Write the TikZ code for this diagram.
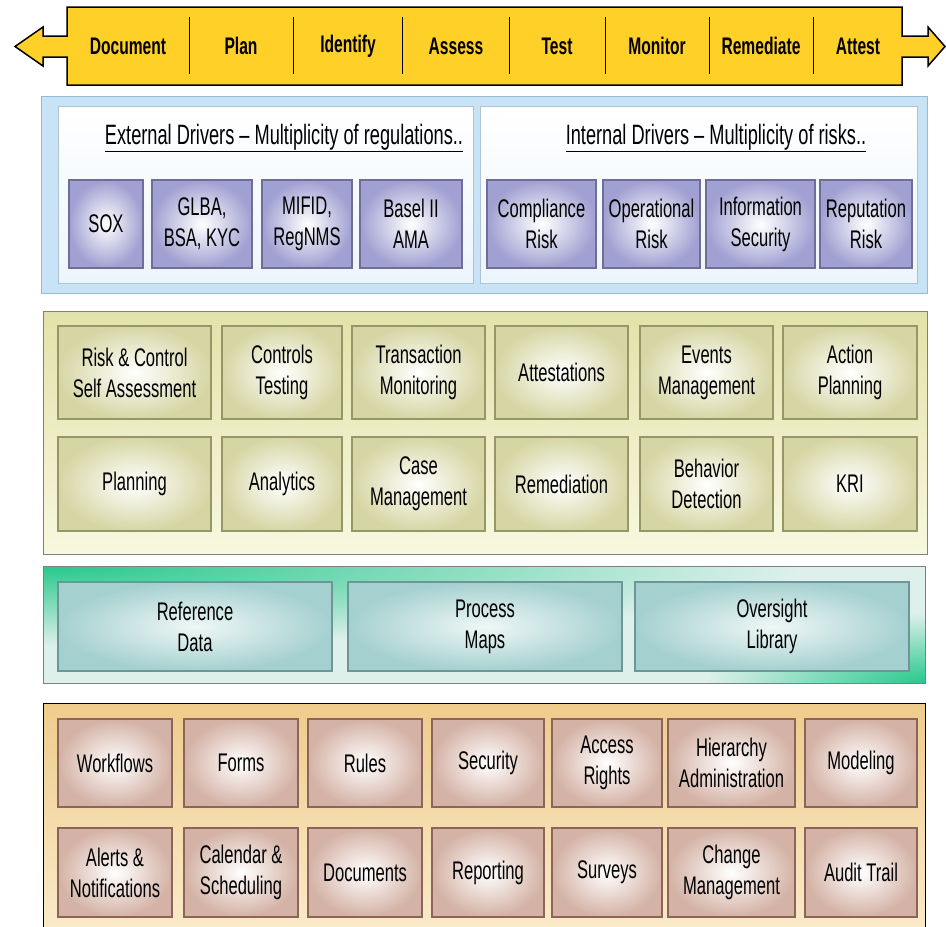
\documentclass[tikz,border=0pt]{standalone}
\usepackage{fontspec}
\setmainfont{Liberation Sans}[FakeStretch=0.65]
\usepackage{xcolor}
\usepackage{tikz}
\usetikzlibrary{positioning}

\definecolor{bannergold}{RGB}{255,208,40}
\definecolor{blueback}{RGB}{200,226,246}
\definecolor{blueedge}{RGB}{150,185,215}
\definecolor{panelfill}{RGB}{236,245,252}
\definecolor{paneledge}{RGB}{175,195,210}
\definecolor{lavtile}{RGB}{160,160,210}
\definecolor{lavedge}{RGB}{110,110,150}
\definecolor{olivetop}{RGB}{226,226,170}
\definecolor{olivelow}{RGB}{248,248,224}
\definecolor{olivetile}{RGB}{214,214,165}
\definecolor{oliveedge}{RGB}{150,150,105}
\definecolor{tealpale}{RGB}{222,240,236}
\definecolor{tealgreen}{RGB}{40,200,140}
\definecolor{tealtile}{RGB}{165,208,208}
\definecolor{tealedge}{RGB}{110,150,150}
\definecolor{tantop}{RGB}{238,204,140}
\definecolor{tanlow}{RGB}{250,234,200}
\definecolor{rosetile}{RGB}{212,178,165}
\definecolor{roseedge}{RGB}{140,100,90}

\newcommand{\tilefont}{\fontsize{25.5}{31}\selectfont}

\begin{document}
\begin{tikzpicture}[
  x=1pt, y=-1pt,
  tile/.style 2 args={rectangle, minimum width=#1pt, minimum height=#2pt,
              inner sep=1pt, align=center, font=\tilefont},
  lav/.style={inner color=white, outer color=lavtile, draw=lavedge, line width=1.2pt},
  olive/.style={inner color=white, outer color=olivetile, draw=oliveedge, line width=1.2pt},
  teal/.style={inner color=tealpale!50, outer color=tealtile, draw=tealedge, line width=1.2pt},
  rose/.style={inner color=white, outer color=rosetile, draw=roseedge, line width=1.2pt},
  stage/.style={font=\fontsize{24}{28}\selectfont\bfseries},
  heading/.style={font=\fontsize{28}{32}\selectfont}
]
\useasboundingbox (0,0) rectangle (946,927);

% Lifecycle banner
\draw[fill=bannergold, line width=1.5pt, line join=miter]
  (67,7) -- (902,7) -- (902,36) -- (928,36) -- (928,27) -- (945,46.5) -- (928,66)
  -- (928,57) -- (902,57) -- (902,85) -- (67,85) -- (67,57) -- (43,57) -- (43,66)
  -- (15,46.5) -- (43,27) -- (43,36) -- (67,36) -- cycle;
\foreach \xd in {189,293,402,509,605,709,813}
  \draw[line width=1pt] (\xd,17) -- (\xd,74);
\node[stage] (document) at (128,46) {Document};
\node[stage] (plan) at (241,46) {Plan};
\node[stage] (identify) at (348,46) {Identify};
\node[stage] (assess) at (456,46) {Assess};
\node[stage] (test) at (557,46) {Test};
\node[stage] (monitor) at (657,46) {Monitor};
\node[stage] (remediate) at (761,46) {Remediate};
\node[stage] (attest) at (858,46) {Attest};

% Drivers layer
\draw[fill=blueback, draw=blueedge, line width=1pt] (41,96) rectangle (927,293);
\draw[top color=white, bottom color=panelfill, draw=paneledge, line width=1pt] (58,106) rectangle (473,283);
\draw[top color=white, bottom color=panelfill, draw=paneledge, line width=1pt] (480,106) rectangle (917,283);
\node[heading] (external) at (284,138) {\underline{External Drivers -- Multiplicity of regulations..}};
\node[heading] (internal) at (716,138) {\underline{Internal Drivers -- Multiplicity of risks..}};

\node[tile={74}{88}, lav] (sox) at (106,224) {SOX};
\node[tile={100}{88}, lav] (glba) at (202,224) {GLBA,\\BSA, KYC};
\node[tile={90}{88}, lav] (mifid) at (307,224) {MIFID,\\RegNMS};
\node[tile={102}{88}, lav] (basel) at (411,224) {Basel II\\AMA};
\node[tile={109}{88}, lav] (compliance) at (541.5,224) {Compliance\\Risk};
\node[tile={97}{88}, lav] (operational) at (651.5,224) {Operational\\Risk};
\node[tile={109}{88}, lav] (infosec) at (760.5,224) {Information\\Security};
\node[tile={92}{88}, lav] (reputation) at (866,224) {Reputation\\Risk};

% Solutions layer
\draw[top color=olivetop, bottom color=olivelow, draw=gray, line width=1pt] (43,311) rectangle (927,554);
\node[tile={153}{93}, olive] (rcsa) at (134.5,372.5) {Risk \& Control\\Self Assessment};
\node[tile={120}{93}, olive] (ctest) at (282,372.5) {Controls\\Testing};
\node[tile={133}{93}, olive] (tmon) at (418.5,372.5) {Transaction\\Monitoring};
\node[tile={133}{93}, olive] (attestations) at (561.5,372.5) {Attestations};
\node[tile={133}{93}, olive] (events) at (706.5,372.5) {Events\\Management};
\node[tile={134}{93}, olive] (action) at (850,372.5) {Action\\Planning};
\node[tile={153}{94}, olive] (planning) at (134.5,484) {Planning};
\node[tile={120}{94}, olive] (analytics) at (282,484) {Analytics};
\node[tile={133}{94}, olive] (casemgmt) at (418.5,484) {Case\\Management};
\node[tile={133}{94}, olive] (remediation) at (561.5,484) {Remediation};
\node[tile={133}{94}, olive] (behavior) at (706.5,484) {Behavior\\Detection};
\node[tile={134}{94}, olive] (kri) at (850,484) {KRI};

% Content layer
\begin{scope}
  \clip (43,566) rectangle (925,683);
  \fill[tealpale] (43,566) rectangle (925,683);
  \shade[inner color=tealgreen, outer color=tealpale] (43,566) ellipse [x radius=760, y radius=80];
  \shade[inner color=tealgreen, outer color=tealpale] (925,683) ellipse [x radius=220, y radius=70];
\end{scope}
\draw[draw=gray, line width=1pt] (43,566) rectangle (925,683);
\node[tile={274}{89}, teal] (refdata) at (195,626.5) {Reference\\Data};
\node[tile={274}{89}, teal] (procmaps) at (485,626.5) {Process\\Maps};
\node[tile={274}{89}, teal] (oversight) at (772,626.5) {Oversight\\Library};

% Platform layer
\fill[top color=tantop, bottom color=tanlow] (43,703) rectangle (925,927);
\draw[line width=1pt] (43,927) -- (43,703) -- (925,703) -- (925,927);
\node[tile={114}{88}, rose] (workflows) at (115,763) {Workflows};
\node[tile={114}{88}, rose] (forms) at (241,763) {Forms};
\node[tile={114}{88}, rose] (rules) at (365,763) {Rules};
\node[tile={112}{88}, rose] (security) at (488,763) {Security};
\node[tile={110}{88}, rose] (access) at (607,763) {Access\\Rights};
\node[tile={127}{88}, rose] (hierarchy) at (731.5,763) {Hierarchy\\Administration};
\node[tile={112}{88}, rose] (modeling) at (861,763) {Modeling};
\node[tile={114}{89}, rose] (alerts) at (115,872.5) {Alerts \&\\Notifications};
\node[tile={114}{89}, rose] (calendar) at (241,872.5) {Calendar \&\\Scheduling};
\node[tile={114}{89}, rose] (documents) at (365,872.5) {Documents};
\node[tile={112}{89}, rose] (reporting) at (488,872.5) {Reporting};
\node[tile={110}{89}, rose] (surveys) at (607,872.5) {Surveys};
\node[tile={127}{89}, rose] (change) at (731.5,872.5) {Change\\Management};
\node[tile={112}{89}, rose] (audit) at (861,872.5) {Audit Trail};

\end{tikzpicture}
\end{document}
